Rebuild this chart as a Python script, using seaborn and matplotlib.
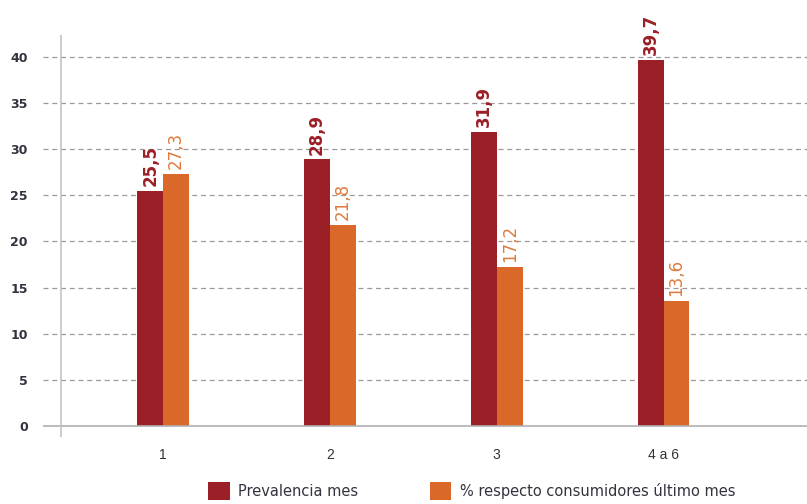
import matplotlib
matplotlib.use("Agg")
import matplotlib.pyplot as plt
from matplotlib.patches import Patch
import seaborn as sns
import pandas as pd

# Data
grupos = ["1", "2", "3", "4 a 6"]
prevalencia_mes = [25.5, 28.9, 31.9, 39.7]
pct_consumidores = [27.3, 21.8, 17.2, 13.6]
series = ["Prevalencia mes", "% respecto consumidores último mes"]
colores = ["#9B1F27", "#DA6828"]
y_ticks = [0, 5, 10, 15, 20, 25, 30, 35, 40]

df = pd.DataFrame({
    "grupo": grupos * 2,
    "valor": prevalencia_mes + pct_consumidores,
    "serie": [series[0]] * len(grupos) + [series[1]] * len(grupos),
})

sns.set_theme(style="white")
plt.rcParams["font.family"] = ["Liberation Sans", "DejaVu Sans"]

W, H = 807, 504
fig = plt.figure(figsize=(W / 100, H / 100), dpi=100)
ax = fig.add_axes([43 / W, 1 - 437 / H, (807 - 43) / W, (437 - 35) / H])

sns.barplot(data=df, x="grupo", y="valor", hue="serie", order=grupos,
            hue_order=series, palette=colores, width=0.31, saturation=1,
            linewidth=0, dodge=True, legend=False, ax=ax)

ax.set_xlim(-0.72, 3.86)
ax.set_ylim(-1.19, 42.38)
for s in ax.spines.values():
    s.set_visible(False)

# Dashed gridlines, solid baseline and a short vertical axis line
for t in y_ticks[1:]:
    ax.axhline(t, color="#9a9a9a", lw=0.9, ls=(0, (4, 3)), zorder=0)
ax.axhline(0, color="#b0b0b0", lw=1.2, zorder=3)
ax.axvline(-0.61, color="#c4c4c4", lw=1.2, zorder=3)

ax.set_yticks(y_ticks)
ax.set_yticklabels([str(t) for t in y_ticks], fontsize=9, color="#333340",
                   fontweight="bold", family="DejaVu Sans")
ax.tick_params(axis="y", length=0, pad=11)
ax.set_xticks(range(len(grupos)))
ax.set_xticklabels(grupos, fontsize=10, color="#333333")
ax.tick_params(axis="x", length=0, pad=8)
ax.set_xlabel("")
ax.set_ylabel("")

# Value labels above the bars
label_styles = [dict(color=colores[0], fontweight="bold"),
                dict(color="#E07A3C", fontweight="normal")]
for cont, vals, style in zip(ax.containers, [prevalencia_mes, pct_consumidores], label_styles):
    ax.bar_label(cont, labels=[f"{v:.1f}".replace(".", ",") for v in vals],
                 rotation=90, padding=3.5, fontsize=12, family="DejaVu Sans", **style)

handles = [Patch(facecolor=c, edgecolor="none") for c in colores]
fig.legend(handles, series, loc="lower left", bbox_to_anchor=(195 / W, -9 / H),
           ncol=2, frameon=False, handlelength=1.5, handleheight=1.5,
           handletextpad=0.55, columnspacing=4.9, labelcolor="#333340",
           prop={"family": "DejaVu Sans", "size": 10.5})

fig.savefig("out.png", dpi=100)
